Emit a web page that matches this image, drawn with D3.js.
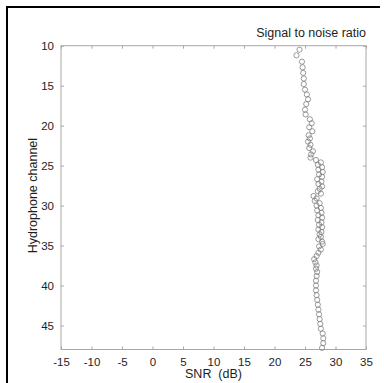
<!DOCTYPE html>
<html><head><meta charset="utf-8">
<script src="https://cdn.jsdelivr.net/npm/d3@7"></script>
<style>html,body{margin:0;padding:0;background:#fff;}svg{display:block;}</style>
</head><body>
<script>
const channel = [10.5,11.2,12.0,12.7,13.4,14.1,14.8,15.5,16.1,16.7,17.3,18.0,18.6,19.2,19.7,20.2,20.7,21.2,21.6,22.0,22.4,22.8,23.2,23.6,24.0,24.3,24.6,24.9,25.2,25.5,25.8,26.1,26.4,26.7,27.0,27.3,27.6,27.9,28.2,28.5,28.8,29.1,29.4,29.7,30.0,30.3,30.6,30.9,31.2,31.5,31.8,32.1,32.4,32.7,33.0,33.3,33.6,33.9,34.2,34.5,34.8,35.1,35.5,35.9,36.3,36.7,37.1,37.5,37.9,38.3,38.8,39.4,40.0,40.6,41.2,41.8,42.4,43.0,43.6,44.2,44.8,45.4,46.0,46.6,47.2,47.8];
const snr = [24.1,23.6,24.5,24.6,24.7,24.8,24.8,25.0,25.3,25.5,25.2,25.0,25.1,25.8,26.1,25.7,26.2,25.6,25.8,25.5,25.9,25.7,26.3,26.0,25.9,26.8,27.6,27.1,27.8,27.2,27.9,27.3,27.8,27.0,27.7,27.2,27.8,27.4,27.1,27.6,26.4,26.9,26.6,27.4,26.9,27.6,27.0,27.7,27.2,27.8,27.1,27.7,27.3,27.8,27.2,27.7,27.4,27.6,27.2,27.8,27.9,27.3,27.6,27.2,26.9,26.5,26.7,26.9,26.8,27.0,26.9,26.8,26.8,26.8,26.9,27.0,27.1,27.2,27.3,27.4,27.5,27.6,27.9,28.0,28.0,27.8];
const xTicks = [-15,-10,-5,0,5,10,15,20,25,30,35];
const yTicks = [10,15,20,25,30,35,40,45];
const title = "Signal to noise ratio";
const xLabel = "SNR  (dB)";
const yLabel = "Hydrophone channel";

const W = 384, H = 383;
const L = 61, R = 366, T = 45.7, B = 349.5;
const svg = d3.select("body").append("svg").attr("width", W).attr("height", H);
const font = "'Liberation Sans', Arial, sans-serif";

// outer frame (left and top edges)
svg.append("line").attr("x1",7).attr("x2",7).attr("y1",6).attr("y2",H).attr("stroke","#000").attr("stroke-width",2);
svg.append("line").attr("x1",6).attr("x2",380).attr("y1",7).attr("y2",7).attr("stroke","#000").attr("stroke-width",2);

const x = d3.scaleLinear().domain([-15,35]).range([L,R]);
const y = d3.scaleLinear().domain([10,48]).range([T,B]);
const axisColor = "#a8a8a8";
const textColor = "#1e1e1e";
const fmt = d => String(d);

function styleAxis(g){
  g.select(".domain").remove();
  g.selectAll(".tick line").attr("stroke",axisColor);
  g.selectAll(".tick text").attr("fill",textColor).style("font-family",font).style("font-size","11.5px");
}
svg.append("g").attr("transform",`translate(0,${B})`)
  .call(d3.axisBottom(x).tickValues(xTicks).tickSizeInner(-3).tickSizeOuter(0).tickPadding(8).tickFormat(fmt))
  .call(styleAxis);
svg.append("g").attr("transform",`translate(0,${T})`)
  .call(d3.axisTop(x).tickValues(xTicks).tickSizeInner(-3).tickSizeOuter(0).tickFormat(""))
  .call(styleAxis);
svg.append("g").attr("transform",`translate(${L},0)`)
  .call(d3.axisLeft(y).tickValues(yTicks).tickSizeInner(-3).tickSizeOuter(0).tickPadding(7).tickFormat(fmt))
  .call(styleAxis);
svg.append("g").attr("transform",`translate(${R},0)`)
  .call(d3.axisRight(y).tickValues(yTicks).tickSizeInner(-3).tickSizeOuter(0).tickFormat(""))
  .call(styleAxis);

svg.append("rect").attr("x",L).attr("y",T).attr("width",R-L).attr("height",B-T)
  .attr("fill","none").attr("stroke",axisColor).attr("stroke-width",1);

svg.append("g").selectAll("circle").data(channel).join("circle")
  .attr("cx",(d,i)=>x(snr[i])).attr("cy",d=>y(d)).attr("r",2.6)
  .attr("fill","none").attr("stroke","#808080").attr("stroke-width",0.8);

svg.append("text").attr("x",R).attr("y",37).attr("text-anchor","end")
  .attr("fill",textColor).style("font-family",font).style("font-size","12.5px").text(title);
svg.append("text").attr("x",(L+R)/2).attr("y",378).attr("text-anchor","middle")
  .attr("fill",textColor).style("font-family",font).style("font-size","12.5px").style("white-space","pre").attr("xml:space","preserve").text(xLabel);
svg.append("text").attr("transform",`translate(37,${(T+B)/2 - 2}) rotate(-90)`).attr("text-anchor","middle")
  .attr("fill",textColor).style("font-family",font).style("font-size","12.5px").text(yLabel);
</script>
</body></html>
